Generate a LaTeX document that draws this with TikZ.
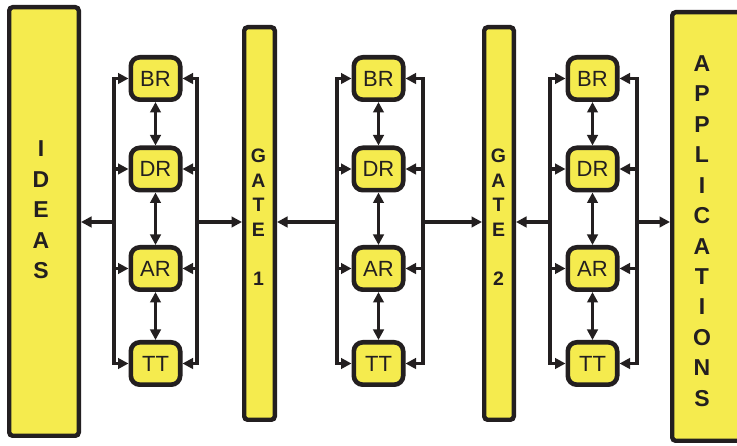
\documentclass[tikz,border=0pt]{standalone}
\usepackage{fontspec}
\setmainfont{Liberation Sans}
\usetikzlibrary{arrows.meta}
\definecolor{yell}{RGB}{245,235,78}
\definecolor{ink}{RGB}{35,31,32}
\begin{document}
\begin{tikzpicture}[x=1pt,y=-1pt,
  smallbox/.style={draw=ink, line width=4.6pt, fill=yell, rounded corners=9pt,
    minimum width=49.4pt, minimum height=42.4pt, inner sep=0pt,
    font=\fontsize{22}{22}\selectfont, text=ink},
  bigbox/.style={draw=ink, line width=4.4pt, fill=yell, rounded corners=3.5pt, inner sep=0pt},
  biglabel/.style={align=center, text=ink, inner sep=0pt,
    font=\bfseries\fontsize{23}{30.45}\selectfont},
  gatelabel/.style={align=center, text=ink, inner sep=0pt,
    font=\bfseries\fontsize{19.5}{24.5}\selectfont},
  conn/.style={draw=ink, line width=3.7pt},
  arr/.style={-{Triangle[length=10.5pt,width=10.5pt]}},
  darr/.style={{Triangle[length=10.5pt,width=10.5pt]}-{Triangle[length=10.5pt,width=10.5pt]}}
]
\useasboundingbox[fill=white] (0,0) rectangle (737,446);
\begin{scope}
\clip (0,0) rectangle (737,446);
% big boxes
\node[bigbox, minimum width=69.6pt, minimum height=428.6pt] (ideas) at (44,221.5) {};
\node[bigbox, minimum width=30.6pt, minimum height=392.6pt] (gate1) at (259.5,223.5) {};
\node[bigbox, minimum width=29.6pt, minimum height=392.6pt] (gate2) at (499,223.5) {};
\node[bigbox, minimum width=85.6pt, minimum height=428.6pt] (apps) at (715,226.5) {};
\end{scope}
\node[biglabel] (ideastext) at (41,210) {I\\D\\E\\A\\S};
\node[gatelabel] (gate1text) at (258.5,217) {G\\A\\T\\E\\[24.5pt]1};
\node[gatelabel] (gate2text) at (498.5,217) {G\\A\\T\\E\\[24.5pt]2};
\node[biglabel] (appstext) at (702,231) {A\\P\\P\\L\\I\\C\\A\\T\\I\\O\\N\\S};
% columns
\foreach \i/\cx/\lx/\rx in {1/155.5/114/197, 2/378.5/337/423, 3/592.5/550/637}{
  \node[smallbox] (br\i) at (\cx,78.5) {BR};
  \node[smallbox] (dr\i) at (\cx,169) {DR};
  \node[smallbox] (ar\i) at (\cx,268.5) {AR};
  \node[smallbox] (tt\i) at (\cx,363.5) {TT};
  \coordinate (L\i) at (\lx,222);
  \coordinate (R\i) at (\rx,222);
  \draw[conn,darr] (br\i.south) -- (dr\i.north);
  \draw[conn,darr] (dr\i.south) -- (ar\i.north);
  \draw[conn,darr] (ar\i.south) -- (tt\i.north);
  \draw[conn,arr] (L\i |- tt\i.west) -- (L\i |- br\i.west) -- (br\i.west);
  \draw[conn,arr] (L\i |- br\i.west) -- (L\i |- tt\i.west) -- (tt\i.west);
  \draw[conn,arr] (L\i |- dr\i.west) -- (dr\i.west);
  \draw[conn,arr] (L\i |- ar\i.west) -- (ar\i.west);
  \draw[conn,arr] (R\i |- tt\i.east) -- (R\i |- br\i.east) -- (br\i.east);
  \draw[conn,arr] (R\i |- br\i.east) -- (R\i |- tt\i.east) -- (tt\i.east);
  \draw[conn,arr] (R\i |- dr\i.east) -- (dr\i.east);
  \draw[conn,arr] (R\i |- ar\i.east) -- (ar\i.east);
}
% connections to the big boxes
\draw[conn,arr] (L1) -- (ideas.east |- L1);
\draw[conn,arr] (R1) -- (gate1.west |- R1);
\draw[conn,arr] (L2) -- (gate1.east |- L2);
\draw[conn,arr] (R2) -- (gate2.west |- R2);
\draw[conn,arr] (L3) -- (gate2.east |- L3);
\draw[conn,arr] (R3) -- (apps.west |- R3);
\end{tikzpicture}
\end{document}
